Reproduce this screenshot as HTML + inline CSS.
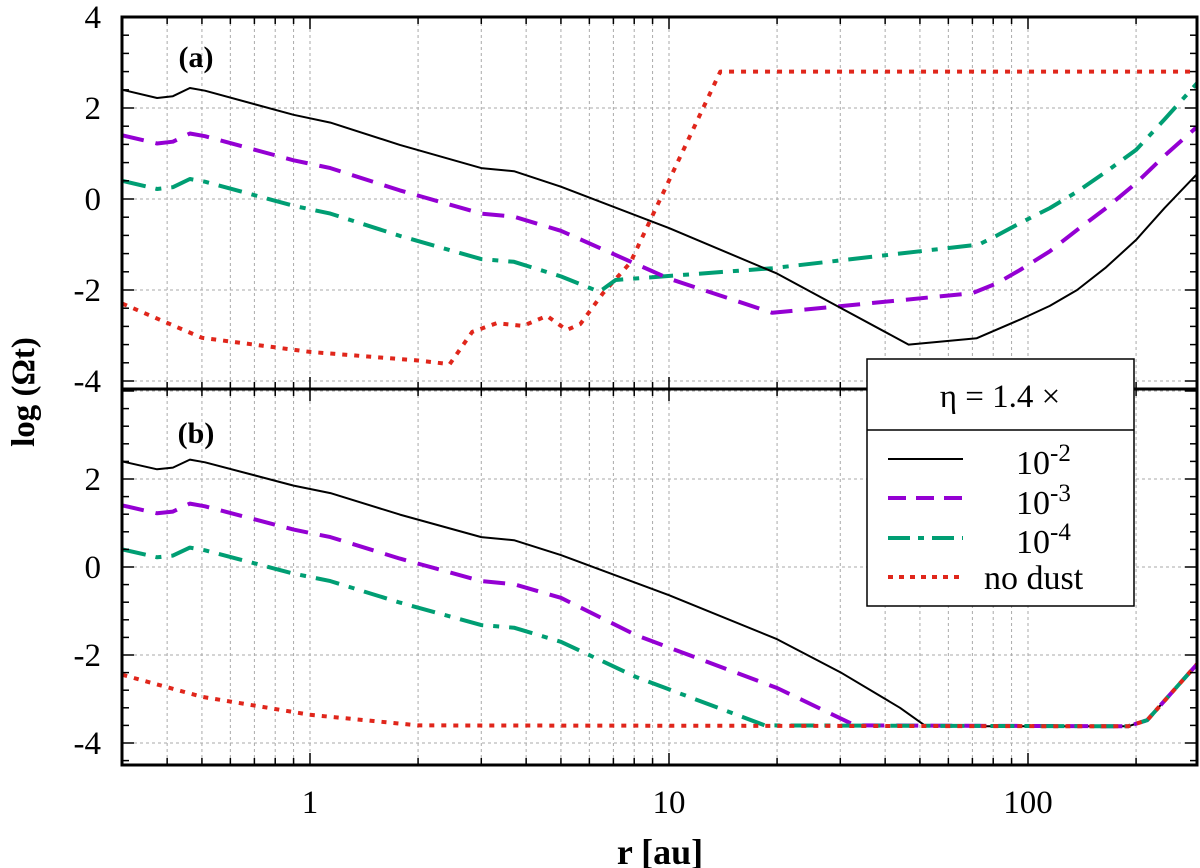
<!DOCTYPE html>
<html><head><meta charset="utf-8"><style>
html,body{margin:0;padding:0;background:#fff;}
svg{display:block;font-family:"Liberation Serif",serif;}
</style></head><body>
<svg id="chart" width="1200" height="868" viewBox="0 0 1200 868" xmlns="http://www.w3.org/2000/svg">
<g id="grid"></g>
<g id="series"></g>
<g id="axes"></g>
<text x="196" y="67" font-size="30" font-weight="bold" text-anchor="middle">(a)</text>
<text x="196" y="443" font-size="30" font-weight="bold" text-anchor="middle">(b)</text>
<text x="660" y="864" font-size="36" font-weight="bold" text-anchor="middle">r [au]</text>
<text transform="translate(34,392) rotate(-90)" font-size="33" font-weight="bold" text-anchor="middle">log (Ωt)</text>
<g>
<rect x="867" y="359" width="267" height="247" fill="#fff" stroke="#000" stroke-width="1.5"/>
<line x1="867" y1="430" x2="1134" y2="430" stroke="#000" stroke-width="1.5"/>
<text x="1000" y="407" font-size="33" text-anchor="middle">η = 1.4 ×</text>
<g><line x1="888" y1="459" x2="963" y2="459" stroke="#000" stroke-width="2"/><text x="1016" y="474" font-size="34">10<tspan dy="-13" font-size="25">-2</tspan></text></g>
<g><line x1="888" y1="498" x2="963" y2="498" stroke="#9400d3" stroke-width="4" stroke-dasharray="18,10"/><text x="1016" y="514" font-size="34">10<tspan dy="-13" font-size="25">-3</tspan></text></g>
<g><line x1="888" y1="538" x2="963" y2="538" stroke="#009e73" stroke-width="4" stroke-dasharray="22,8,6,8"/><text x="1016" y="553" font-size="34">10<tspan dy="-13" font-size="25">-4</tspan></text></g>
<g><line x1="888" y1="577" x2="963" y2="577" stroke="#e0261b" stroke-width="4" stroke-dasharray="5,6"/><text x="984" y="589" font-size="34">no dust</text></g>
</g>
</svg>
<script>
// Panel (a) data
const aBlackR = [0.3,0.375,0.415,0.463,0.51,0.9,1.14,1.78,3.0,3.7,5,10,20,30,46.5,72,95,115,137,165,200,240,300];
const aBlackV = [2.4,2.22,2.26,2.44,2.38,1.85,1.68,1.19,0.68,0.61,0.27,-0.64,-1.64,-2.39,-3.2,-3.06,-2.65,-2.35,-2.0,-1.5,-0.9,-0.2,0.6];
const aPurpleR = [0.3,0.375,0.415,0.463,0.51,0.9,1.14,1.78,3,3.7,5,10,19.4,70,82,95,115,137,165,200,240,300];
const aPurpleV = [1.4,1.22,1.26,1.44,1.38,0.85,0.68,0.19,-0.32,-0.39,-0.7,-1.75,-2.5,-2.07,-1.85,-1.56,-1.15,-0.68,-0.2,0.35,0.95,1.63];
const aGreenR = [0.3,0.375,0.415,0.463,0.51,0.9,1.14,1.78,3,3.7,5,6.4,7.1,19.4,73,82,95,115,137,165,200,240,300];
const aGreenV = [0.4,0.22,0.26,0.44,0.38,-0.15,-0.32,-0.81,-1.32,-1.38,-1.7,-2.04,-1.78,-1.52,-1.0,-0.8,-0.53,-0.2,0.16,0.6,1.08,1.75,2.6];
const aRedR = [0.3,0.5,1,2,2.45,2.83,3.31,3.92,4.57,5.19,5.66,6.55,7.8,13.9,300];
const aRedV = [-2.3,-3.05,-3.36,-3.55,-3.63,-2.92,-2.73,-2.79,-2.57,-2.88,-2.75,-2.07,-1.4,2.8,2.8];
// Panel (b) data
const bBlackR = [0.3,0.375,0.415,0.463,0.51,0.9,1.14,1.78,3.0,3.7,5,10,20,30,44,52,190,215,300];
const bBlackV = [2.4,2.22,2.26,2.44,2.38,1.85,1.68,1.19,0.68,0.61,0.27,-0.64,-1.64,-2.39,-3.2,-3.62,-3.62,-3.48,-2.15];
const bPurpleR = [0.3,0.375,0.415,0.463,0.51,0.9,1.14,1.78,3,3.7,5,8.1,20,33,190,215,300];
const bPurpleV = [1.4,1.22,1.26,1.44,1.38,0.85,0.68,0.19,-0.32,-0.39,-0.7,-1.55,-2.75,-3.6,-3.62,-3.48,-2.15];
const bGreenR = [0.3,0.375,0.415,0.463,0.51,0.9,1.14,1.78,3,3.7,5,8.1,18.5,190,215,300];
const bGreenV = [0.4,0.22,0.26,0.44,0.38,-0.15,-0.32,-0.81,-1.32,-1.38,-1.7,-2.5,-3.6,-3.62,-3.48,-2.15];
const bRedR = [0.3,0.5,1,2,190,215,300];
const bRedV = [-2.45,-2.95,-3.36,-3.6,-3.62,-3.48,-2.15];
const yTicks = [-4,-2,0,2,4];
const xTickLabels = ["1","10","100"];
const xTickVals = [1,10,100];

const NS="http://www.w3.org/2000/svg";
const L=122,R=1197;
const xs=r=>310+359*Math.log10(r);
const panels=[{top:17,bot:389,y:v=>199-45.5*v,name:'a'},{top:389,bot:765,y:v=>567-44*v,name:'b'}];
function mk(tag,attrs,parent){const e=document.createElementNS(NS,tag);for(const k in attrs)e.setAttribute(k,attrs[k]);parent.appendChild(e);return e;}
const grid=document.getElementById('grid'),axes=document.getElementById('axes'),ser=document.getElementById('series');
const minorX=[];for(let d=0.1;d<1000;d*=10)for(let m=1;m<10;m++){const v=d*m;if(v>=0.3&&v<=300)minorX.push(v);}
panels.forEach(p=>{
  minorX.forEach(v=>{const x=xs(v);if(x<=L+1||x>=R-1)return;
    const g=mk('line',{x1:x,x2:x,y1:p.top,y2:p.bot,stroke:'#aaa','stroke-width':1,'stroke-dasharray':'3,3'},grid);
    
    const major=Math.abs(Math.log10(v)-Math.round(Math.log10(v)))<1e-6;const len=major?12:7;
    mk('line',{x1:x,x2:x,y1:p.bot,y2:p.bot-len,stroke:'#000','stroke-width':1.5},axes);
    mk('line',{x1:x,x2:x,y1:p.top,y2:p.top+len,stroke:'#000','stroke-width':1.5},axes);
  });
  yTicks.forEach(v=>{const y=p.y(v);if(y<p.top+2||y>p.bot-2)return;
    const g=mk('line',{x1:L,x2:R,y1:y,y2:y,stroke:'#aaa','stroke-width':1,'stroke-dasharray':'3,3'},grid);
    });
  for(let v=-4.4;v<=4.01;v+=0.4){const y=p.y(v);if(y<p.top+2||y>p.bot-2)continue;
    const major=Math.abs(v/2-Math.round(v/2))<1e-6;const len=major?12:7;
    mk('line',{x1:L,x2:L+len,y1:y,y2:y,stroke:'#000','stroke-width':1.5},axes);
    mk('line',{x1:R,x2:R-len,y1:y,y2:y,stroke:'#000','stroke-width':1.5},axes);}
  yTicks.forEach(v=>{const y=p.y(v);if(y<p.top-8||y>p.bot+8)return;
    if(p.name==='b'&&v===4)return;
    const t=mk('text',{x:101,y:y+11,'font-size':33,'text-anchor':'end'},axes);t.textContent=String(v);
    });
});
mk('rect',{x:L,y:17,width:R-L,height:765-17,fill:'none',stroke:'#000','stroke-width':3},axes);
mk('line',{x1:L,x2:R,y1:389,y2:389,stroke:'#000','stroke-width':3},axes);
xTickVals.forEach((v,i)=>{const t=mk('text',{x:xs(v),y:813,'font-size':33,'text-anchor':'middle'},axes);t.textContent=xTickLabels[i];
  });
const styles={black:{stroke:'#000','stroke-width':2},purple:{stroke:'#9400d3','stroke-width':4,'stroke-dasharray':'22,12'},
  green:{stroke:'#009e73','stroke-width':4,'stroke-dasharray':'24,10,6,10'},red:{stroke:'#e0261b','stroke-width':4,'stroke-dasharray':'5,7'}};
function draw(p,R_,V,st,name){
  const pts=R_.map((r,i)=>xs(r).toFixed(1)+','+p.y(V[i]).toFixed(1)).join(' ');
  const a=Object.assign({points:pts,fill:'none','stroke-linejoin':'round'},styles[st]);
  const e=mk('polyline',a,ser);
  
  
}
const cl=mk('clipPath',{id:'cp'},ser);mk('rect',{x:L,y:17,width:R-L,height:748},cl);
ser.setAttribute('clip-path','url(#cp)');
draw(panels[0],aRedR,aRedV,'red','series-a-no-dust');
draw(panels[0],aGreenR,aGreenV,'green','series-a-1e-4');
draw(panels[0],aPurpleR,aPurpleV,'purple','series-a-1e-3');
draw(panels[0],aBlackR,aBlackV,'black','series-a-1e-2');
draw(panels[1],bBlackR,bBlackV,'black','series-b-1e-2');
draw(panels[1],bPurpleR,bPurpleV,'purple','series-b-1e-3');
draw(panels[1],bGreenR,bGreenV,'green','series-b-1e-4');
draw(panels[1],bRedR,bRedV,'red','series-b-no-dust');
</script>
</body></html>
